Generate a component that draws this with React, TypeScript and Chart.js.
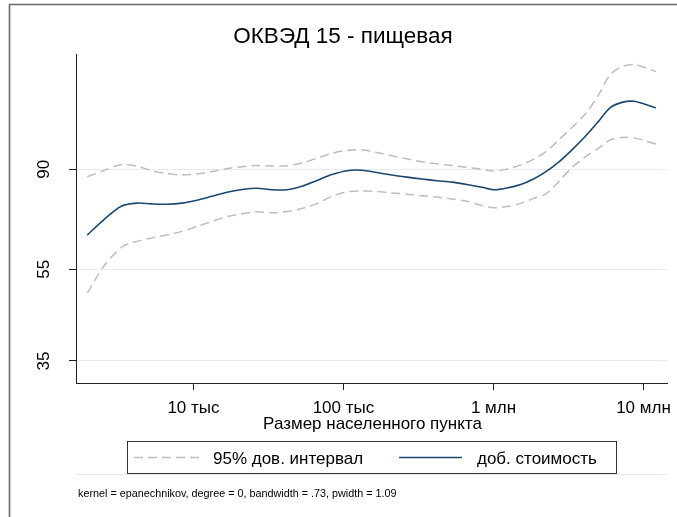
import React, { useEffect, useRef } from "react";
import { Chart, registerables } from "chart.js";

Chart.register(...registerables);

// ---------- data ----------
const population = [
  1960, 2510, 3320, 4200, 5290, 6660, 8380, 10550, 13280, 16710,
  21040, 26490, 33340, 41980, 52840, 66530, 83750, 105500, 132800, 167100,
  210400, 264900, 333400, 419800, 528400, 665300, 837500, 1007000, 1230000, 1503000,
  1834000, 2239000, 2733000, 3337000, 4074000, 4974000, 5980000, 7190000, 8643000, 10230000,
  12110000,
];
const valueAdded = [
  65.1, 70.1, 75.1, 76.2, 75.9, 75.8, 76.2, 77.3, 78.8, 80.4,
  81.5, 82.0, 81.4, 81.4, 82.8, 85.2, 87.7, 89.4, 89.6, 88.6,
  87.5, 86.6, 85.8, 85.1, 84.5, 83.5, 82.4, 81.4, 82.1, 83.4,
  85.7, 89.0, 93.4, 99.1, 105.7, 113.6, 121.9, 125.2, 125.9, 124.0,
  121.9,
];
const upperCI = [
  86.8, 89.4, 92.2, 91.4, 89.4, 88.1, 87.6, 88.0, 89.0, 90.3,
  91.2, 91.7, 91.5, 91.6, 92.9, 95.1, 97.4, 98.8, 99.1, 97.8,
  96.2, 94.8, 93.4, 92.5, 91.7, 90.9, 90.0, 89.3, 90.1, 91.9,
  94.4, 98.2, 104.2, 110.6, 118.0, 129.2, 143.3, 149.4, 150.9, 148.6,
  145.7,
];
const lowerCI = [
  48.9, 55.7, 61.3, 63.1, 64.2, 65.1, 66.3, 67.9, 69.6, 71.3,
  72.3, 73.0, 72.7, 73.1, 74.2, 76.0, 78.8, 80.6, 80.9, 80.7,
  80.1, 79.6, 79.0, 78.5, 77.8, 76.9, 75.3, 74.5, 74.9, 76.0,
  77.9, 79.8, 84.9, 90.8, 95.6, 99.7, 104.0, 105.3, 105.1, 103.7,
  101.9,
];
const xTickValues = [1e4, 1e5, 1e6, 1e7];
const xTickLabels = ["10 тыс", "100 тыс", "1 млн", "10 млн"];
const yTickValues = [35, 55, 90];
const yTickLabels = ["35", "55", "90"];
const extraGridValue = 20;
const titleText = "ОКВЭД 15 - пищевая";
const xAxisTitle = "Размер населенного пункта";
const legendLabels = ["95% дов. интервал", "доб. стоимость"];
const noteText = "kernel = epanechnikov, degree = 0, bandwidth = .73, pwidth = 1.09";

// ---------- styles ----------
const FONT = '"Liberation Sans", Arial, Helvetica, sans-serif';
const NAVY = "#1a476f";
const CI_GRAY = "#bdbdbd";
const GRID = "#e3ecee";
const CI_DASH = [9, 5];

const decorPlugin = {
  id: "decor",
  beforeDatasetsDraw(chart: any) {
    const ctx = chart.ctx;
    const ys = chart.scales.y;
    const { left, right } = chart.chartArea;
    const yy = Math.round(ys.getPixelForValue(extraGridValue)) - 0.5;
    ctx.save();
    ctx.strokeStyle = GRID;
    ctx.lineWidth = 1;
    ctx.beginPath();
    ctx.moveTo(left, yy);
    ctx.lineTo(right, yy);
    ctx.stroke();
    ctx.restore();
  },
  afterDraw(chart: any) {
    const ctx = chart.ctx;
    const xs = chart.scales.x;
    const ys = chart.scales.y;
    const { left, right } = chart.chartArea;
    const cx = (left + right) / 2;
    ctx.save();

    // outer frame (top and left)
    ctx.strokeStyle = "#6a6a6a";
    ctx.lineWidth = 1.6;
    ctx.beginPath();
    ctx.moveTo(9.5, 517);
    ctx.lineTo(9.5, 4.5);
    ctx.lineTo(677, 4.5);
    ctx.stroke();

    ctx.fillStyle = "#000";
    // title (centred on the whole graph)
    ctx.font = `22.5px ${FONT}`;
    ctx.textAlign = "center";
    ctx.textBaseline = "alphabetic";
    ctx.fillText(titleText, 343, 43);

    // y tick labels (rotated)
    ctx.font = `17px ${FONT}`;
    yTickValues.forEach((v, i) => {
      const py = ys.getPixelForValue(v);
      ctx.save();
      ctx.translate(48.5, py);
      ctx.rotate(-Math.PI / 2);
      ctx.textAlign = "center";
      ctx.fillText(yTickLabels[i], 0, 0);
      ctx.restore();
    });

    // x tick labels
    ctx.textAlign = "center";
    xTickValues.forEach((v, i) => {
      ctx.fillText(xTickLabels[i], xs.getPixelForValue(v), 412.5);
    });
    // x axis title
    ctx.fillText(xAxisTitle, cx + 1, 428.5);

    // legend
    ctx.strokeStyle = "#333";
    ctx.lineWidth = 1;
    ctx.strokeRect(127.5, 441.5, 489, 32);
    const ly = 457.5;
    ctx.lineWidth = 1.5;
    ctx.strokeStyle = CI_GRAY;
    ctx.setLineDash(CI_DASH);
    ctx.beginPath();
    ctx.moveTo(134, ly);
    ctx.lineTo(199, ly);
    ctx.stroke();
    ctx.setLineDash([]);
    ctx.strokeStyle = NAVY;
    ctx.lineWidth = 1.6;
    ctx.beginPath();
    ctx.moveTo(399, ly);
    ctx.lineTo(462, ly);
    ctx.stroke();
    ctx.textAlign = "left";
    ctx.fillStyle = "#000";
    ctx.fillText(legendLabels[0], 213, 463.5);
    ctx.fillText(legendLabels[1], 477, 463.5);

    // note
    ctx.font = `10.8px ${FONT}`;
    ctx.fillText(noteText, 78, 497);

    ctx.restore();
  },
};

export default function App() {
  const canvasRef = useRef<HTMLCanvasElement | null>(null);

  useEffect(() => {
    document.body.style.margin = "0";
    const canvas = canvasRef.current;
    if (!canvas) return;
    const toPoints = (ys: number[]) => population.map((x, i) => ({ x, y: ys[i] }));
    const chart = new Chart(canvas, {
      type: "line",
      data: {
        datasets: [
          {
            label: legendLabels[0],
            data: toPoints(upperCI),
            borderColor: CI_GRAY,
            borderWidth: 1.5,
            borderDash: CI_DASH,
            pointRadius: 0,
            tension: 0.3,
            fill: false,
          },
          {
            label: legendLabels[0] + " (lower)",
            data: toPoints(lowerCI),
            borderColor: CI_GRAY,
            borderWidth: 1.5,
            borderDash: CI_DASH,
            pointRadius: 0,
            tension: 0.3,
            fill: false,
          },
          {
            label: legendLabels[1],
            data: toPoints(valueAdded),
            borderColor: NAVY,
            borderWidth: 1.6,
            pointRadius: 0,
            tension: 0.3,
            fill: false,
          },
        ],
      },
      options: {
        responsive: false,
        animation: false,
        devicePixelRatio: 1,
        layout: { padding: { top: 54, right: 10, bottom: 94, left: 0 } },
        plugins: {
          legend: { display: false },
          title: { display: false },
          tooltip: { enabled: false },
        },
        scales: {
          x: {
            type: "logarithmic",
            min: 1648,
            max: 14350000,
            afterBuildTicks: (scale: any) => {
              scale.ticks = xTickValues.map((v) => ({ value: v }));
            },
            afterFit: (scale: any) => {
              scale.height = 40;
            },
            ticks: { display: false },
            grid: {
              drawOnChartArea: false,
              drawTicks: true,
              tickLength: 7,
              tickColor: "#222",
              tickWidth: 1,
            },
            border: { display: true, color: "#222", width: 1 },
          },
          y: {
            type: "logarithmic",
            min: 31.4,
            max: 158.9,
            afterBuildTicks: (scale: any) => {
              scale.ticks = yTickValues.map((v) => ({ value: v }));
            },
            afterFit: (scale: any) => {
              scale.width = 76;
            },
            ticks: { display: false },
            grid: {
              drawOnChartArea: true,
              color: GRID,
              lineWidth: 1,
              drawTicks: true,
              tickLength: 7,
              tickColor: "#222",
              tickWidth: 1,
            },
            border: { display: true, color: "#222", width: 1 },
          },
        },
      },
      plugins: [decorPlugin],
    } as any);
    return () => chart.destroy();
  }, []);

  return (
    <div style={{ width: 677, height: 517, position: "relative", background: "#fff" }}>
      <canvas ref={canvasRef} width={677} height={517} style={{ display: "block" }} />
    </div>
  );
}
